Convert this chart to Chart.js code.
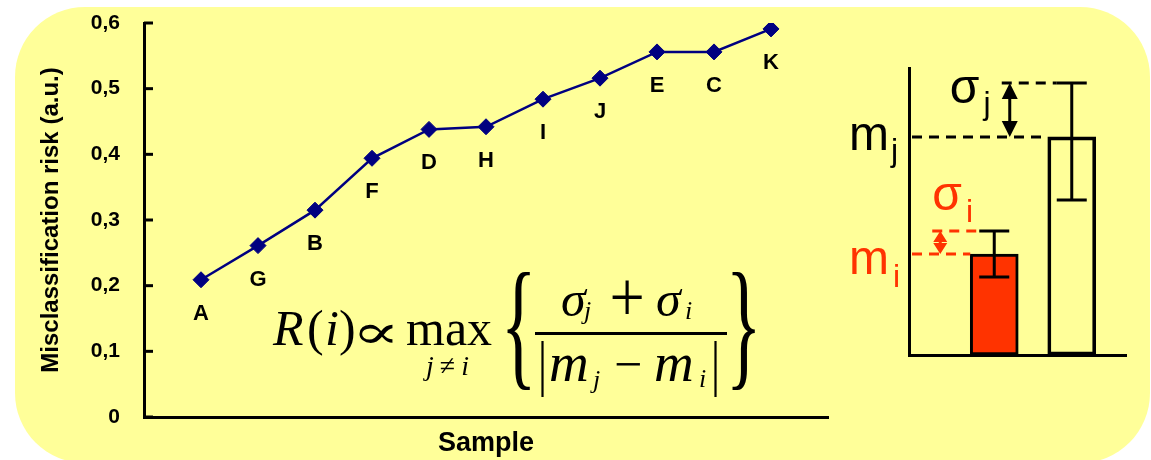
<!DOCTYPE html>
<html>
<head>
<meta charset="utf-8">
<title>Misclassification risk</title>
<script src="https://cdn.jsdelivr.net/npm/chart.js@4.4.0/dist/chart.umd.min.js"></script>
<style>
  html, body { margin: 0; padding: 0; background: #fff; }
  #wrap { position: relative; width: 1151px; height: 460px; overflow: hidden; }
  #panel { position: absolute; left: 15px; top: 7px; width: 1135px; height: 456px; background: #FFFF99; border-radius: 70px; }
  #riskChart { position: absolute; left: 0; top: 0; }
  #diagChart { position: absolute; left: 830px; top: 40px; }
</style>
</head>
<body>
<div id="wrap">
  <div id="panel"></div>
  <canvas id="riskChart" width="1151" height="460"></canvas>
  <canvas id="diagChart" width="310" height="340"></canvas>
</div>
<script>
// Data
const sampleLabels = ['A', 'G', 'B', 'F', 'D', 'H', 'I', 'J', 'E', 'C', 'K'];
const riskValues = [0.209, 0.261, 0.315, 0.394, 0.438, 0.442, 0.484, 0.516, 0.556, 0.556, 0.591];
const yTickLabels = ['0', '0,1', '0,2', '0,3', '0,4', '0,5', '0,6'];

// Sketch on the right: two samples, mean and spread (arbitrary units)
const diagNames = ['i', 'j'];
const diagPos = [1.1, 2.1];
const diagMeans = [3.52, 7.6];
const diagErrUp = [0.8, 1.88];
const diagErrDown = [0.8, 2.2];

const NAVY = '#000080';
const RED = '#FF3300';
const SANS = '"Liberation Sans", Arial, sans-serif';
const SERIF = '"Liberation Serif", "Times New Roman", serif';

// draws one glyph stretched into a box (braces, bars, symbols)
function boxText(ctx, ch, font, x0, y0, x1, y1) {
    ctx.save();
    ctx.font = font;
    const m = ctx.measureText(ch);
    const w = m.actualBoundingBoxLeft + m.actualBoundingBoxRight;
    const h = m.actualBoundingBoxAscent + m.actualBoundingBoxDescent;
    ctx.translate(x0, y0);
    ctx.scale((x1 - x0) / w, (y1 - y0) / h);
    ctx.textAlign = 'left';
    ctx.textBaseline = 'alphabetic';
    ctx.fillText(ch, m.actualBoundingBoxLeft, m.actualBoundingBoxAscent);
    ctx.restore();
}

function txt(ctx, s, font, x, y) {
    ctx.font = font;
    ctx.fillText(s, x, y);
}

// Inner tick marks on the y axis
const innerTicks = {
    id: 'innerTicks',
    afterDraw(chart) {
        const {ctx, chartArea, scales: {y}} = chart;
        ctx.save();
        ctx.strokeStyle = '#000';
        ctx.lineWidth = 3;
        y.ticks.forEach(t => {
            const py = y.getPixelForValue(t.value);
            ctx.beginPath();
            ctx.moveTo(chartArea.left, py);
            ctx.lineTo(chartArea.left + 9, py);
            ctx.stroke();
        });
        ctx.restore();
    }
};

// Letter under each point
const pointLabels = {
    id: 'pointLabels',
    afterDatasetsDraw(chart) {
        const {ctx} = chart;
        const meta = chart.getDatasetMeta(0);
        ctx.save();
        ctx.fillStyle = '#000';
        ctx.font = 'bold 22px ' + SANS;
        ctx.textAlign = 'center';
        ctx.textBaseline = 'middle';
        meta.data.forEach((pt, i) => ctx.fillText(sampleLabels[i], pt.x, pt.y + 34));
        ctx.restore();
    }
};

// R(i) formula
const formula = {
    id: 'formula',
    afterDraw(chart) {
        const ctx = chart.ctx;
        ctx.save();
        ctx.fillStyle = '#000';
        ctx.textAlign = 'left';
        ctx.textBaseline = 'alphabetic';
        const it = s => 'italic ' + s + 'px ' + SERIF;
        const up = s => s + 'px ' + SERIF;

        txt(ctx, 'R', it(50), 273, 345);
        txt(ctx, '(', up(50), 307, 345);
        txt(ctx, 'i', it(50), 325, 345);
        txt(ctx, ')', up(50), 339, 345);
        boxText(ctx, '\u221D', '40px "DejaVu Serif", serif', 359, 324, 393, 343);
        txt(ctx, 'max', up(50), 406, 345);

        // j ≠ i under max
        let x = 426;
        txt(ctx, 'j', it(28), x, 375); x += ctx.measureText('j').width + 6;
        txt(ctx, '\u2260', up(28), x, 375); x += ctx.measureText('\u2260').width + 6;
        txt(ctx, 'i', it(28), x, 375);

        boxText(ctx, '{', '120px ' + SERIF, 507, 272, 530, 390);
        boxText(ctx, '}', '120px ' + SERIF, 732, 272, 755, 390);

        // fraction bar
        ctx.fillRect(535, 332, 192, 3);

        // numerator
        txt(ctx, '\u03C3', it(50), 561, 316);
        txt(ctx, 'j', it(26), 584, 319);
        boxText(ctx, '+', up(50), 612, 280, 642, 314);
        txt(ctx, '\u03C3', it(50), 656, 316);
        txt(ctx, 'i', it(26), 685, 319);

        // denominator
        boxText(ctx, '|', up(60), 541, 342, 544, 397);
        txt(ctx, 'm', it(55), 549, 381);
        txt(ctx, 'j', it(26), 593, 388);
        txt(ctx, '\u2212', up(50), 614, 381);
        txt(ctx, 'm', it(55), 654, 381);
        txt(ctx, 'i', it(26), 699, 387);
        boxText(ctx, '|', up(60), 714, 342, 717, 397);
        ctx.restore();
    }
};

new Chart(document.getElementById('riskChart'), {
    type: 'line',
    data: {
        datasets: [{
            data: riskValues.map((v, i) => ({x: i + 1, y: v})),
            borderColor: NAVY,
            backgroundColor: NAVY,
            borderWidth: 2.5,
            pointStyle: 'rectRot',
            pointRadius: 8,
            pointBorderWidth: 1,
            tension: 0
        }]
    },
    options: {
        responsive: false,
        animation: false,
        layout: {padding: {left: 30, right: 323, top: 23, bottom: 0}},
        plugins: {legend: {display: false}, tooltip: {enabled: false}},
        scales: {
            x: {
                type: 'linear', min: 0, max: 12,
                ticks: {display: false},
                grid: {display: false, drawTicks: false},
                border: {color: '#000', width: 3},
                title: {display: true, text: 'Sample', color: '#000', padding: 0,
                        font: {family: SANS, size: 27, weight: 'bold'}},
                afterFit: s => { s.height = 43; }
            },
            y: {
                min: 0, max: 0.6,
                // label gap comes from the (hidden) tick length so it does not push the top down
                ticks: {stepSize: 0.1, padding: 0, color: '#000',
                        font: {family: SANS, size: 21, weight: 'bold'},
                        callback: (v, i) => yTickLabels[i]},
                grid: {display: false, drawTicks: true, tickLength: 24},
                border: {color: '#000', width: 3},
                title: {display: true, text: 'Misclassification risk (a.u.)', color: '#000',
                        padding: {top: 7, bottom: 0},
                        font: {family: SANS, size: 24, weight: 'bold'}},
                afterFit: s => { s.width = 114; }
            }
        }
    },
    plugins: [innerTicks, pointLabels, formula]
});

// Error bars on the sketch
const errorBars = {
    id: 'errorBars',
    afterDatasetsDraw(chart) {
        const {ctx, scales: {y}} = chart;
        const meta = chart.getDatasetMeta(0);
        ctx.save();
        ctx.strokeStyle = '#000';
        ctx.lineWidth = 3;
        meta.data.forEach((bar, k) => {
            const yT = y.getPixelForValue(diagMeans[k] + diagErrUp[k]);
            const yB = y.getPixelForValue(diagMeans[k] - diagErrDown[k]);
            ctx.beginPath();
            ctx.moveTo(bar.x, yT); ctx.lineTo(bar.x, yB);
            ctx.moveTo(bar.x - 15, yT); ctx.lineTo(bar.x + 15, yT);
            ctx.moveTo(bar.x - 15, yB); ctx.lineTo(bar.x + 15, yB);
            ctx.stroke();
        });
        ctx.restore();
    }
};

function dline(ctx, x0, y, x1) {
    ctx.beginPath();
    ctx.moveTo(x0, y);
    ctx.lineTo(x1, y);
    ctx.stroke();
}

function dblArrow(ctx, x, yTop, yBot, color, hw, hh) {
    ctx.save();
    ctx.strokeStyle = color;
    ctx.fillStyle = color;
    ctx.lineWidth = 3;
    ctx.beginPath();
    ctx.moveTo(x, yTop + hh / 2); ctx.lineTo(x, yBot - hh / 2);
    ctx.stroke();
    ctx.beginPath();
    ctx.moveTo(x, yTop); ctx.lineTo(x - hw, yTop + hh); ctx.lineTo(x + hw, yTop + hh); ctx.closePath();
    ctx.moveTo(x, yBot); ctx.lineTo(x - hw, yBot - hh); ctx.lineTo(x + hw, yBot - hh); ctx.closePath();
    ctx.fill();
    ctx.restore();
}

// dashed guides, arrows and m / sigma labels
const diagNotes = {
    id: 'diagNotes',
    afterDraw(chart) {
        const {ctx, chartArea, scales: {y}} = chart;
        const [bi, bj] = chart.getDatasetMeta(0).data;
        const yMi = y.getPixelForValue(diagMeans[0]);
        const yTi = y.getPixelForValue(diagMeans[0] + diagErrUp[0]);
        const yMj = y.getPixelForValue(diagMeans[1]);
        const yTj = y.getPixelForValue(diagMeans[1] + diagErrUp[1]);
        const left = chartArea.left;

        ctx.save();
        ctx.lineWidth = 3;
        ctx.setLineDash([10, 7]);
        ctx.strokeStyle = '#000';
        dline(ctx, left + 3, yMj, bj.x - bj.width / 2);
        dline(ctx, bj.x - 70, yTj, bj.x - 15);
        ctx.strokeStyle = RED;
        dline(ctx, left + 3, yMi, bi.x - bi.width / 2);
        dline(ctx, bi.x - 62, yTi, bi.x - 17);
        ctx.setLineDash([]);

        dblArrow(ctx, bj.x - 62, yTj, yMj, '#000', 8, 16);
        dblArrow(ctx, bi.x - 54, yTi, yMi, RED, 7, 11);

        ctx.textAlign = 'left';
        ctx.textBaseline = 'alphabetic';
        const big = '48px ' + SANS;
        const small = '32px ' + SANS;

        ctx.fillStyle = '#000';
        txt(ctx, 'm', big, left - 60, yMj + 13);
        let w = ctx.measureText('m').width;
        txt(ctx, 'j', small, left - 60 + w + 2, yMj + 24);
        txt(ctx, '\u03C3', big, bj.x - 122, yTj + 20);
        w = ctx.measureText('\u03C3').width;
        txt(ctx, 'j', small, bj.x - 122 + w + 4, yTj + 31);

        ctx.fillStyle = RED;
        txt(ctx, 'm', big, left - 60, yMi + 20);
        w = ctx.measureText('m').width;
        txt(ctx, 'i', small, left - 60 + w + 4, yMi + 33);
        txt(ctx, '\u03C3', big, bi.x - 62, yTi - 21);
        w = ctx.measureText('\u03C3').width;
        txt(ctx, 'i', small, bi.x - 62 + w + 4, yTi - 9);
        ctx.restore();
    }
};

new Chart(document.getElementById('diagChart'), {
    type: 'bar',
    data: {
        labels: diagNames,
        datasets: [{
            data: diagPos.map((p, k) => ({x: p, y: diagMeans[k]})),
            backgroundColor: [RED, 'rgba(0,0,0,0)'],
            borderColor: '#000',
            borderWidth: 3,
            borderSkipped: false,
            barThickness: 48
        }]
    },
    options: {
        responsive: false,
        animation: false,
        layout: {padding: {left: 79, right: 14, top: 28, bottom: 25}},
        plugins: {legend: {display: false}, tooltip: {enabled: false}},
        scales: {
            x: {
                type: 'linear', min: 0, max: 2.8, offset: false,
                ticks: {display: false},
                grid: {display: false, drawTicks: false, offset: false},
                border: {color: '#000', width: 3},
                afterFit: s => { s.height = 0; }
            },
            y: {
                min: 0, max: 10,
                ticks: {display: false},
                grid: {display: false, drawTicks: false},
                border: {color: '#000', width: 3},
                afterFit: s => { s.width = 0; }
            }
        }
    },
    plugins: [errorBars, diagNotes]
});
</script>
</body>
</html>
